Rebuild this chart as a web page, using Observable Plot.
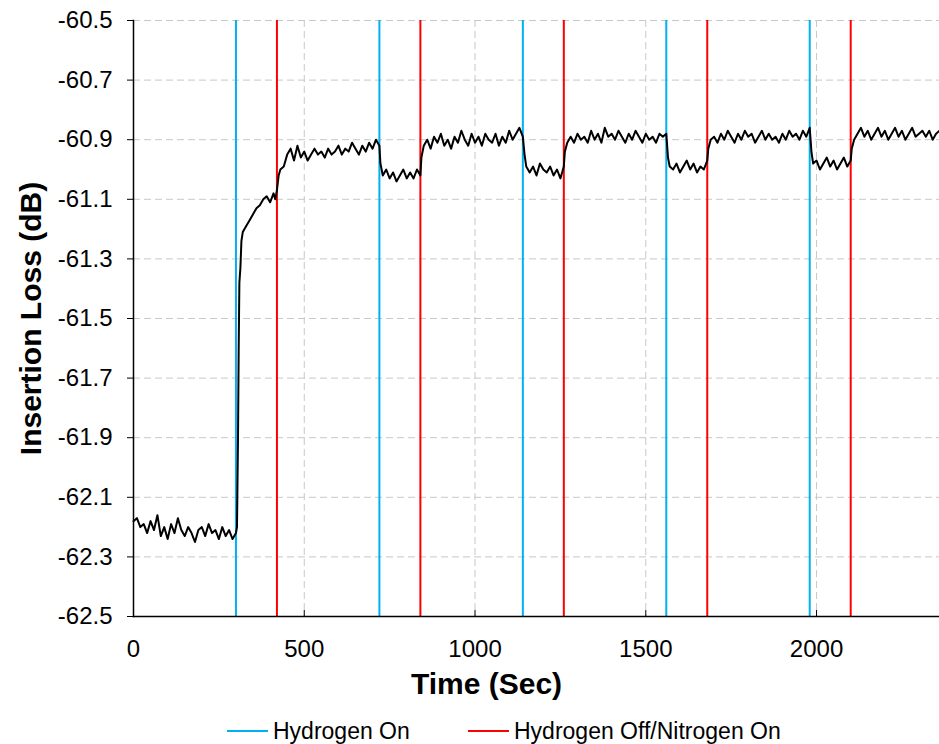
<!DOCTYPE html>
<html><head><meta charset="utf-8">
<script src="https://cdn.jsdelivr.net/npm/d3@7"></script>
<script src="https://cdn.jsdelivr.net/npm/@observablehq/plot@0.6"></script>
<style>
body{margin:0;background:#fff;font-family:"Liberation Sans",Arial,sans-serif;}
#legend{position:relative;width:939px;height:28px;font-size:23px;color:#000;}
.item{position:absolute;top:1px;height:28px;display:flex;align-items:center;}
.swatch{display:inline-block;width:41px;height:2px;margin-right:5px;}
</style></head><body>
<div id="chart"></div>
<div id="legend"></div>
<script>
// [time (s), insertion loss (dB)]
const readings = [
[0,-62.18],[10,-62.17],[20,-62.20],[30,-62.19],[40,-62.22],[50,-62.18],[60,-62.21],[70,-62.16],[80,-62.23],[90,-62.20],
[100,-62.24],[110,-62.19],[120,-62.22],[130,-62.17],[140,-62.21],[150,-62.23],[160,-62.20],[170,-62.22],[180,-62.25],[190,-62.21],
[200,-62.20],[210,-62.23],[220,-62.19],[230,-62.22],[240,-62.21],[250,-62.24],[260,-62.20],[270,-62.23],[280,-62.21],[290,-62.24],[300,-62.22],
[303,-62.20],[306,-61.90],[308,-61.60],[310,-61.38],[313,-61.33],[316,-61.24],[320,-61.21],[330,-61.19],[340,-61.17],[350,-61.15],
[360,-61.13],[370,-61.12],[380,-61.10],[390,-61.09],[400,-61.11],[410,-61.08],[415,-61.10],[420,-61.07],[425,-61.02],[430,-61.00],
[440,-60.99],[450,-60.95],[460,-60.93],[470,-60.97],[480,-60.92],[490,-60.96],
[500,-60.94],[510,-60.97],[520,-60.95],[530,-60.93],[540,-60.95],[550,-60.94],[560,-60.96],[570,-60.93],[580,-60.95],[590,-60.94],
[600,-60.92],[610,-60.95],[620,-60.93],[630,-60.94],[640,-60.91],[650,-60.93],[660,-60.95],[670,-60.92],[680,-60.94],[690,-60.91],
[700,-60.93],[710,-60.90],[720,-60.92],
[723,-60.98],[730,-61.02],[740,-61.00],[750,-61.03],[760,-61.01],[770,-61.04],[780,-61.02],[790,-61.00],[800,-61.03],[810,-61.01],
[820,-61.03],[830,-61.00],[840,-61.02],
[843,-60.96],[850,-60.92],[860,-60.90],[870,-60.93],[880,-60.89],[890,-60.91],[900,-60.88],[910,-60.92],[920,-60.90],[930,-60.93],
[940,-60.89],[950,-60.91],[960,-60.87],[970,-60.90],[980,-60.92],[990,-60.88],[1000,-60.91],[1010,-60.89],[1020,-60.92],[1030,-60.88],
[1040,-60.90],[1050,-60.91],[1060,-60.88],[1070,-60.92],[1080,-60.89],[1090,-60.91],[1100,-60.87],[1110,-60.90],[1120,-60.88],[1130,-60.86],
[1140,-60.89],
[1145,-60.95],[1150,-60.99],[1160,-61.01],[1170,-60.99],[1180,-61.02],[1190,-60.98],[1200,-61.00],[1210,-61.01],[1220,-60.99],[1230,-61.02],
[1240,-61.00],[1250,-61.03],[1260,-60.99],
[1263,-60.94],[1270,-60.91],[1280,-60.89],[1290,-60.91],[1300,-60.88],[1310,-60.90],[1320,-60.89],[1330,-60.91],[1340,-60.87],[1350,-60.90],
[1360,-60.88],[1370,-60.91],[1380,-60.86],[1390,-60.89],[1400,-60.88],[1410,-60.90],[1420,-60.87],[1430,-60.89],[1440,-60.91],[1450,-60.88],
[1460,-60.90],[1470,-60.87],[1480,-60.89],[1490,-60.91],[1500,-60.88],[1510,-60.90],[1520,-60.89],[1530,-60.91],[1540,-60.88],[1550,-60.89],
[1560,-60.88],
[1565,-60.96],[1570,-60.99],[1580,-61.00],[1590,-60.98],[1600,-61.01],[1610,-60.99],[1620,-60.97],[1630,-61.00],[1640,-60.98],[1650,-61.01],
[1660,-60.99],[1670,-61.00],[1680,-60.97],
[1683,-60.93],[1690,-60.90],[1700,-60.89],[1710,-60.91],[1720,-60.88],[1730,-60.90],[1740,-60.87],[1750,-60.89],[1760,-60.91],[1770,-60.88],
[1780,-60.90],[1790,-60.87],[1800,-60.89],[1810,-60.88],[1820,-60.91],[1830,-60.89],[1840,-60.87],[1850,-60.90],[1860,-60.88],[1870,-60.90],
[1880,-60.89],[1890,-60.91],[1900,-60.88],[1910,-60.90],[1920,-60.87],[1930,-60.89],[1940,-60.88],[1950,-60.90],[1960,-60.87],[1970,-60.89],
[1980,-60.86],
[1985,-60.94],[1990,-60.98],[2000,-60.97],[2010,-61.00],[2020,-60.98],[2030,-60.96],[2040,-60.99],[2050,-60.97],[2060,-61.00],[2070,-60.98],
[2080,-60.96],[2090,-60.99],[2100,-60.97],
[2103,-60.93],[2110,-60.90],[2120,-60.88],[2130,-60.86],[2140,-60.89],[2150,-60.87],[2160,-60.90],[2170,-60.88],[2180,-60.86],[2190,-60.89],
[2200,-60.87],[2210,-60.90],[2220,-60.88],[2230,-60.86],[2240,-60.89],[2250,-60.87],[2260,-60.90],[2270,-60.88],[2280,-60.86],[2290,-60.89],
[2300,-60.88],[2310,-60.87],[2320,-60.89],[2330,-60.87],[2340,-60.90],[2350,-60.88],[2360,-60.87]
];
const hydrogenOn = [300, 720, 1140, 1560, 1980];
const hydrogenOff = [420, 840, 1260, 1680, 2100];
const xTicks = [0, 500, 1000, 1500, 2000];
const yTicks = [-60.5, -60.7, -60.9, -61.1, -61.3, -61.5, -61.7, -61.9, -62.1, -62.3, -62.5];
const legendItems = [
  {label: "Hydrogen On", color: "#00B0F0", left: 227},
  {label: "Hydrogen Off/Nitrogen On", color: "#FF0000", left: 468}
];

const gridStyle = {stroke: "#c8c8c8", strokeOpacity: 1, strokeWidth: 1, strokeDasharray: "7,4"};

const chart = Plot.plot({
  width: 939, height: 716,
  marginTop: 20, marginLeft: 133, marginRight: 0, marginBottom: 100,
  style: {fontFamily: "'Liberation Sans', Arial, sans-serif", fontSize: "24px", color: "#000", background: "#fff"},
  x: {domain: [0, 2360]},
  y: {domain: [-62.5, -60.5]},
  marks: [
    Plot.gridX(xTicks, gridStyle),
    Plot.gridY(yTicks, gridStyle),
    Plot.ruleX(hydrogenOn, {stroke: "#00B0F0", strokeWidth: 2}),
    Plot.ruleX(hydrogenOff, {stroke: "#FF0000", strokeWidth: 2}),
    Plot.line(readings, {x: d => d[0], y: d => d[1], stroke: "#000", strokeWidth: 2}),
    Plot.axisY({ticks: yTicks, tickSize: 6, tickPadding: 15, tickFormat: d => d.toFixed(1), fontSize: 24, label: null}),
    Plot.axisX({ticks: xTicks, tickSize: 0, tickPadding: 23, tickFormat: d => String(d), fontSize: 24, label: null}),
    Plot.axisX({ticks: xTicks, tickSize: 6, text: null, dy: -6, label: null}),
    Plot.frame({anchor: "left", stroke: "#000", strokeWidth: 1.5}),
    Plot.frame({anchor: "bottom", stroke: "#000", strokeWidth: 1.5}),
    Plot.text(["Time (Sec)"], {frameAnchor: "bottom", dy: 77, dx: -50, textAnchor: "middle", fontSize: 30, fontWeight: "bold"}),
    Plot.text(["Insertion Loss (dB)"], {frameAnchor: "left", dx: -102, rotate: -90, textAnchor: "middle", fontSize: 30, fontWeight: "bold"})
  ]
});
document.getElementById("chart").append(chart);

const legend = d3.select("#legend");
for (const it of legendItems) {
  const item = legend.append("div").attr("class", "item").style("left", it.left + "px");
  item.append("span").attr("class", "swatch").style("background", it.color);
  item.append("span").text(it.label);
}
</script>
</body></html>
